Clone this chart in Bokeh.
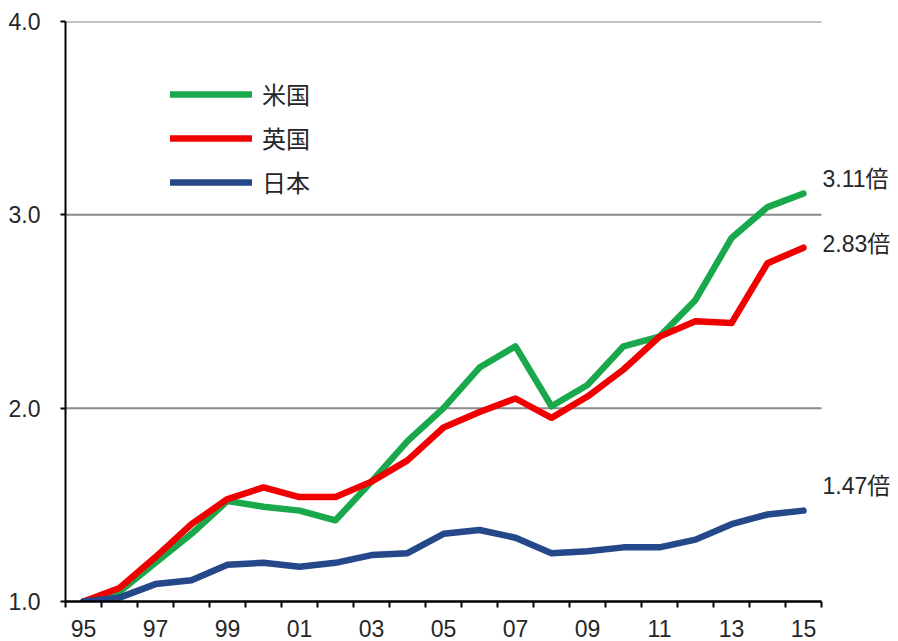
from bokeh.plotting import figure
from bokeh.models import ColumnDataSource, FixedTicker, Legend, LegendItem, CustomJSTickFormatter
from bokeh.core.properties import value
from bokeh.embed import file_html
from bokeh.resources import INLINE

years = list(range(1995, 2016))
us = [1.00, 1.05, 1.20, 1.35, 1.52, 1.49, 1.47, 1.42, 1.62, 1.83, 2.00, 2.21, 2.32, 2.01, 2.12, 2.32, 2.37, 2.56, 2.88, 3.04, 3.11]
uk = [1.00, 1.07, 1.23, 1.40, 1.53, 1.59, 1.54, 1.54, 1.62, 1.73, 1.90, 1.98, 2.05, 1.95, 2.06, 2.20, 2.37, 2.45, 2.44, 2.75, 2.83]
jp = [1.00, 1.02, 1.09, 1.11, 1.19, 1.20, 1.18, 1.20, 1.24, 1.25, 1.35, 1.37, 1.33, 1.25, 1.26, 1.28, 1.28, 1.32, 1.40, 1.45, 1.47]
series_names = ["米国", "英国", "日本"]
colors = ["#1aa84c", "#f00000", "#24488a"]
y_ticks = [1.0, 2.0, 3.0, 4.0]
grid_values = [2.0, 3.0, 4.0]

FONT = "Liberation Sans, Arial, Noto Sans CJK JP, sans-serif"
TEXT_COLOR = "#262626"

# layout: frame from x=65 to the right edge; categories 36 px wide
W, H = 898, 641
LEFT, RIGHT, TOP, BOTTOM = 65, 0, 21, 40
cat_px = 756 / len(years)
x_start = years[0] - 0.5
x_end = x_start + (W - LEFT - RIGHT) / cat_px
x_axis_end = years[-1] + 0.5

src = ColumnDataSource(dict(year=years, us=us, uk=uk, jp=jp))

p = figure(width=W, height=H, output_backend="svg", toolbar_location=None,
           x_range=(x_start, x_end), y_range=(y_ticks[0], y_ticks[-1]),
           min_border_left=LEFT, min_border_right=RIGHT, min_border_top=TOP, min_border_bottom=BOTTOM)
p.outline_line_color = None
p.background_fill_color = "white"
p.xgrid.visible = False
p.ygrid.visible = False

# horizontal grid lines limited to the category span
p.segment(x0=[x_start] * len(grid_values), x1=[x_axis_end] * len(grid_values),
          y0=grid_values, y1=grid_values, line_color="#8a8a8a", line_width=2)

# x axis: labels at odd years, tick marks at category boundaries
xa = p.xaxis[0]
xa.bounds = (x_start, x_axis_end)
xa.ticker = FixedTicker(ticks=years[::2], minor_ticks=[y - 0.5 for y in years] + [x_axis_end])
xa.formatter = CustomJSTickFormatter(code="return String(tick % 100).padStart(2, '0');")
xa.major_tick_out = 0
xa.major_tick_in = 0
xa.minor_tick_out = 6
xa.minor_tick_in = 0
xa.minor_tick_line_color = "black"
xa.minor_tick_line_width = 2
xa.axis_line_color = "black"
xa.axis_line_width = 2.5
xa.major_label_standoff = 12
xa.major_label_text_font = FONT
xa.major_label_text_font_size = "23px"
xa.major_label_text_color = TEXT_COLOR

ya = p.yaxis[0]
ya.ticker = FixedTicker(ticks=y_ticks)
ya.formatter = CustomJSTickFormatter(code="return tick.toFixed(1);")
ya.major_tick_out = 5
ya.major_tick_in = 0
ya.minor_tick_out = 0
ya.minor_tick_in = 0
ya.major_tick_line_color = "black"
ya.major_tick_line_width = 2
ya.axis_line_color = "black"
ya.axis_line_width = 2
ya.major_label_standoff = 20
ya.major_label_text_font = FONT
ya.major_label_text_font_size = "23px"
ya.major_label_text_color = TEXT_COLOR

renderers = []
for col, c in zip(["us", "uk", "jp"], colors):
    r = p.line("year", col, source=src, line_color=c, line_width=6.5, line_join="round", line_cap="round")
    renderers.append(r)

legend = Legend(items=[LegendItem(label=n, renderers=[r]) for n, r in zip(series_names, renderers)],
                location=(105, 402), orientation="vertical")
legend.border_line_color = None
legend.background_fill_alpha = 0
legend.padding = 0
legend.margin = 0
legend.spacing = 9
legend.glyph_width = 82
legend.glyph_height = 24
legend.label_height = 24
legend.label_standoff = 10
legend.label_text_font = FONT
legend.label_text_font_size = "24px"
legend.label_text_color = TEXT_COLOR
legend.label_text_baseline = "middle"
p.add_layout(legend, "center")

# end labels
ends = [us[-1], uk[-1], jp[-1]]
label_dy = [-15, -4, -25]
for v, dy in zip(ends, label_dy):
    p.text(x=[years[-1]], y=[v], text=[f"{v:.2f}倍"], x_offset=19, y_offset=dy,
           text_font=value(FONT), text_font_size="23px", text_color=TEXT_COLOR,
           text_baseline="middle", text_align="left")

open("out.html", "w").write(file_html(p, INLINE))
